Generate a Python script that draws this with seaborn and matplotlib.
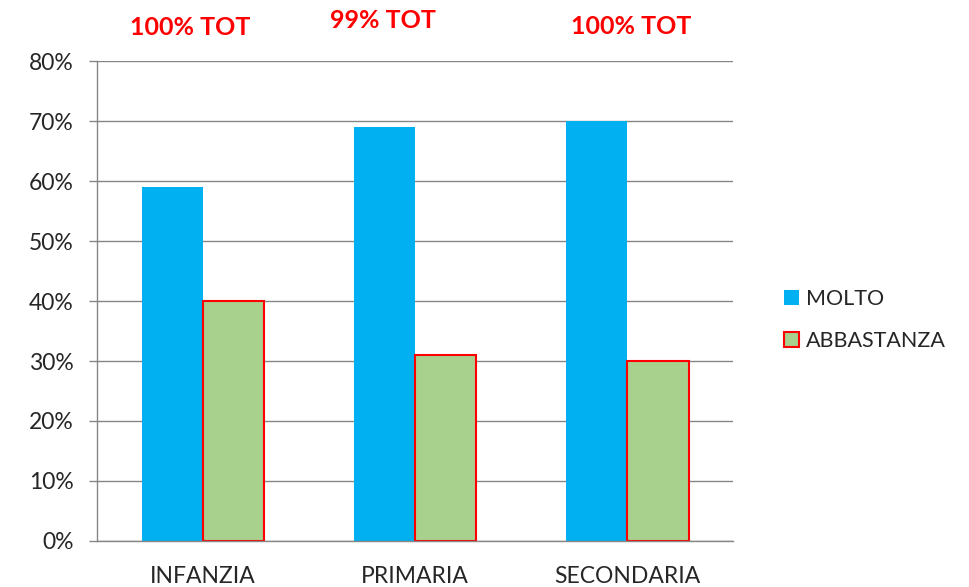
import pandas as pd
import matplotlib
matplotlib.use('Agg')
import matplotlib.pyplot as plt
import seaborn as sns
from matplotlib.ticker import FixedLocator, NullFormatter, FixedFormatter

# Data
categories = ['INFANZIA', 'PRIMARIA', 'SECONDARIA']
molto = [0.59, 0.69, 0.70]
abbastanza = [0.40, 0.31, 0.30]
totals = ['100% TOT', '99% TOT', '100% TOT']
series = ['MOLTO', 'ABBASTANZA']


def main():
    df = pd.DataFrame({
        'scuola': categories * 2,
        'valore': molto + abbastanza,
        'serie': [series[0]] * 3 + [series[1]] * 3,
    })

    sns.set_style('white')
    plt.rcParams['font.family'] = ['Lato', 'DejaVu Sans']

    fig = plt.figure(figsize=(9.7, 5.87), dpi=100)
    ax = fig.add_axes([0.1, 0.0784, 0.6557, 0.8176])

    palette = {'MOLTO': '#00B0F0', 'ABBASTANZA': '#A9D18E'}
    sns.barplot(data=df, x='scuola', y='valore', hue='serie', palette=palette,
                width=0.58, saturation=1, ax=ax, legend=False)

    # red outline on the second series only
    for bar in ax.containers[1]:
        bar.set_edgecolor('#FF0000')
        bar.set_linewidth(1.5)
    for bar in ax.containers[0]:
        bar.set_linewidth(0)

    ax.set_ylim(0, 0.8)
    ax.set_xlim(-0.5, 2.5)
    ax.set_yticks([i / 10 for i in range(9)])
    ax.set_yticklabels([f'{i * 10}%' for i in range(9)], fontsize=16.5)
    ax.yaxis.grid(True, color='#868686', linewidth=1)
    ax.set_axisbelow(True)

    ax.xaxis.set_major_locator(FixedLocator([-0.5, 0.5, 1.5, 2.5]))
    ax.xaxis.set_major_formatter(NullFormatter())
    ax.xaxis.set_minor_locator(FixedLocator([0, 1, 2]))
    ax.xaxis.set_minor_formatter(FixedFormatter(categories))
    ax.tick_params(axis='x', which='minor', length=0, labelsize=16.5, pad=18)
    ax.tick_params(axis='x', which='major', length=7, color='#868686', width=1)
    ax.tick_params(axis='y', length=6, color='#868686', width=1, left=True, pad=11)
    ax.set_xlabel('')
    ax.set_ylabel('')

    for s in ['top', 'right']:
        ax.spines[s].set_visible(False)
    for s in ['left', 'bottom']:
        ax.spines[s].set_color('#868686')
        ax.spines[s].set_linewidth(1)

    # totals above the groups
    tx = [-0.061, 0.849, 2.019]
    ty = [1.069, 1.085, 1.071]
    for x, y, t in zip(tx, ty, totals):
        ax.text(x, y, t, transform=ax.get_xaxis_transform(), ha='center', va='center',
                color='#FF0000', fontsize=18, fontweight='bold')

    # legend
    handles = [plt.Rectangle((0, 0), 1, 1, facecolor=palette['MOLTO'], edgecolor='none'),
               plt.Rectangle((0, 0), 1, 1, facecolor=palette['ABBASTANZA'],
                             edgecolor='#FF0000', linewidth=1.5)]
    fig.legend(handles, series, loc='center left', bbox_to_anchor=(0.788, 0.455),
               frameon=False, fontsize=15.5, handlelength=0.7, handleheight=0.7,
               labelspacing=1.05, handletextpad=0.35)

    fig.savefig('out.png', dpi=100)


if __name__ == '__main__':
    main()
